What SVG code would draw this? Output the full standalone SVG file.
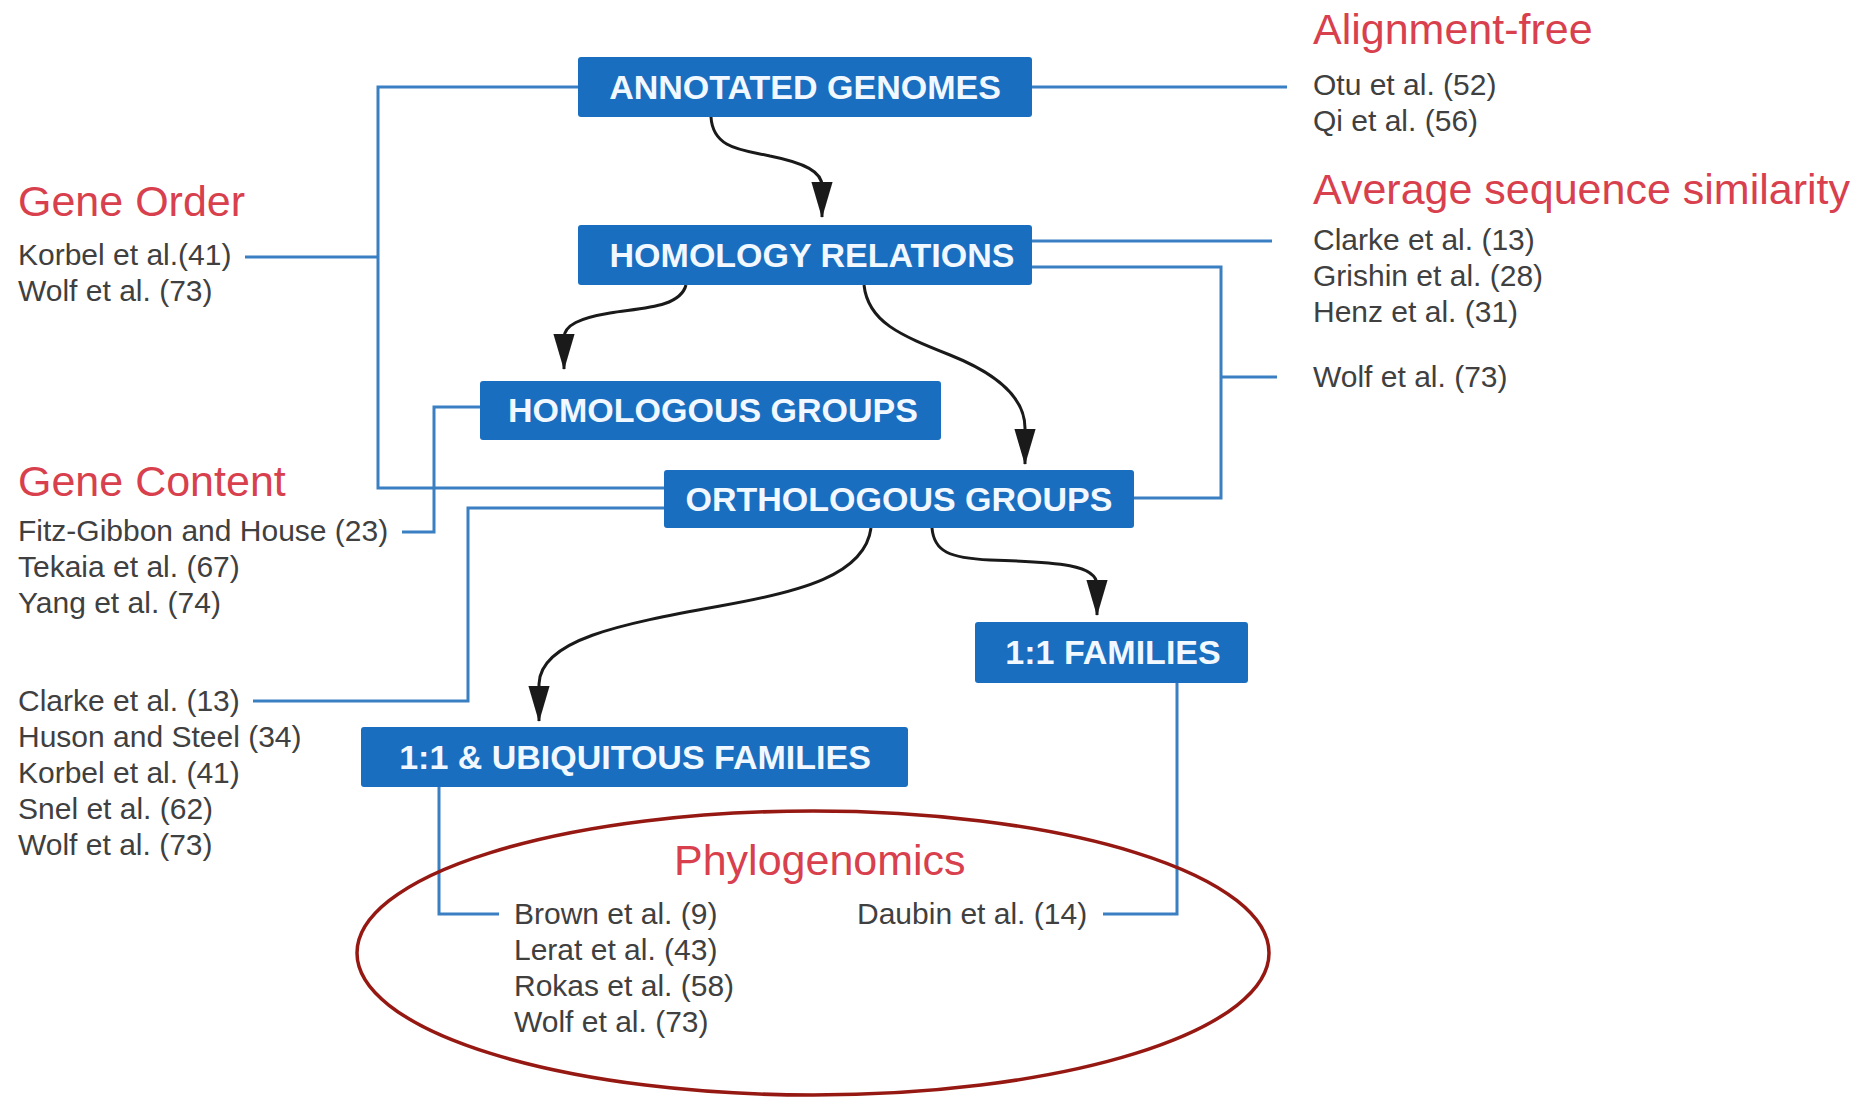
<svg xmlns="http://www.w3.org/2000/svg" width="1870" height="1097" viewBox="0 0 1870 1097">
<style>
.box{fill:#1a6ec0;}
.bt{font-family:"Liberation Sans",Arial,sans-serif;font-weight:bold;font-size:34px;fill:#f2f8ff;text-anchor:middle;}
.h{font-family:"Liberation Sans",Arial,sans-serif;font-size:43px;fill:#d8404d;}
.r{font-family:"Liberation Sans",Arial,sans-serif;font-size:30px;fill:#404040;}
.c{fill:none;stroke:#3a7fc2;stroke-width:3;}
.a{fill:none;stroke:#1a1a1a;stroke-width:3;marker-end:url(#ah);}
</style>
<defs>
<marker id="ah" markerUnits="userSpaceOnUse" markerWidth="36" markerHeight="22" viewBox="0 0 34 20" refX="33" refY="10" orient="auto">
<path d="M0,0 L34,10 L0,20 Z" fill="#1a1a1a"/>
</marker>
</defs>
<rect width="1870" height="1097" fill="#ffffff"/>
<g id="connectors">
<polyline class="c" points="578,87 378,87 378,488 664,488"/>
<line class="c" x1="245" y1="257" x2="378" y2="257"/>
<line class="c" x1="1032" y1="87" x2="1287" y2="87"/>
<line class="c" x1="1032" y1="241" x2="1272" y2="241"/>
<polyline class="c" points="1032,267 1221,267 1221,498 1134,498"/>
<line class="c" x1="1221" y1="377" x2="1277" y2="377"/>
<polyline class="c" points="480,407 434,407 434,532 402,532"/>
<polyline class="c" points="664,508 468,508 468,701 253,701"/>
<polyline class="c" points="1177,683 1177,914 1103,914"/>
<polyline class="c" points="439,787 439,914 499,914"/>
<path class="a" d="M711,117 C713,150 745,150 770,156 C805,163 822,172 822,186 L822,217"/>
<path class="a" d="M686,285 C680,308 640,308 610,313 C580,318 564,325 564,338 L564,369"/>
<path class="a" d="M864,285 C868,322 900,335 950,355 C1000,375 1025,400 1025,428 L1025,464"/>
<path class="a" d="M871,528 C865,575 800,592 720,606 C620,624 540,640 539,684 L539,721"/>
<path class="a" d="M932,528 C934,552 950,558 990,560 C1060,562 1097,565 1097,585 L1097,615"/>
</g>
<g id="annotated-genomes"><rect class="box" x="578" y="57" width="454" height="60" rx="3"/><text class="bt" x="805" y="99">ANNOTATED GENOMES</text></g>
<g id="homology-relations"><rect class="box" x="578" y="225" width="454" height="60" rx="3"/><text class="bt" x="812" y="267">HOMOLOGY RELATIONS</text></g>
<g id="homologous-groups"><rect class="box" x="480" y="381" width="461" height="59" rx="3"/><text class="bt" x="713" y="422">HOMOLOGOUS GROUPS</text></g>
<g id="orthologous-groups"><rect class="box" x="664" y="470" width="470" height="58" rx="3"/><text class="bt" x="899" y="511">ORTHOLOGOUS GROUPS</text></g>
<g id="one-one-families"><rect class="box" x="975" y="622" width="273" height="61" rx="3"/><text class="bt" x="1113" y="664">1:1 FAMILIES</text></g>
<g id="ubiquitous-families"><rect class="box" x="361" y="727" width="547" height="60" rx="3"/><text class="bt" x="635" y="769">1:1 &amp; UBIQUITOUS FAMILIES</text></g>
<g id="alignment-free">
<text class="h" x="1313" y="44">Alignment-free</text>
<text class="r" x="1313" y="95">Otu et al. (52)</text>
<text class="r" x="1313" y="131">Qi et al. (56)</text>
</g>
<g id="average-sequence-similarity">
<text class="h" x="1313" y="204">Average sequence similarity</text>
<text class="r" x="1313" y="250">Clarke et al. (13)</text>
<text class="r" x="1313" y="286">Grishin et al. (28)</text>
<text class="r" x="1313" y="322">Henz et al. (31)</text>
<text class="r" x="1313" y="387">Wolf et al. (73)</text>
</g>
<g id="gene-order">
<text class="h" x="18" y="216">Gene Order</text>
<text class="r" x="18" y="265">Korbel et al.(41)</text>
<text class="r" x="18" y="301">Wolf et al. (73)</text>
</g>
<g id="gene-content">
<text class="h" x="18" y="496">Gene Content</text>
<text class="r" x="18" y="541">Fitz-Gibbon and House (23)</text>
<text class="r" x="18" y="577">Tekaia et al. (67)</text>
<text class="r" x="18" y="613">Yang et al. (74)</text>
<text class="r" x="18" y="711">Clarke et al. (13)</text>
<text class="r" x="18" y="747">Huson and Steel (34)</text>
<text class="r" x="18" y="783">Korbel et al. (41)</text>
<text class="r" x="18" y="819">Snel et al. (62)</text>
<text class="r" x="18" y="855">Wolf et al. (73)</text>
</g>
<g id="phylogenomics">
<ellipse cx="813" cy="953" rx="456" ry="142" fill="none" stroke="#961812" stroke-width="3.5"/>
<text class="h" x="674" y="875">Phylogenomics</text>
<text class="r" x="514" y="924">Brown et al. (9)</text>
<text class="r" x="514" y="960">Lerat et al. (43)</text>
<text class="r" x="514" y="996">Rokas et al. (58)</text>
<text class="r" x="514" y="1032">Wolf et al. (73)</text>
<text class="r" x="857" y="924">Daubin et al. (14)</text>
</g>
</svg>
